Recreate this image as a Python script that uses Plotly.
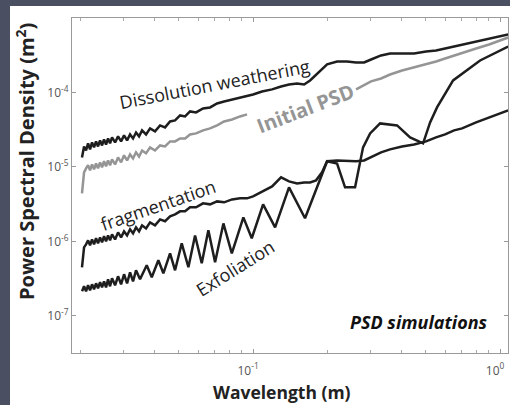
import plotly.graph_objects as go

# ---------------- data ----------------
wavelength = [0.0203, 0.02069, 0.02108, 0.02148, 0.02188, 0.02229, 0.02271, 0.02314, 0.02357, 0.02402,
              0.02447, 0.02493, 0.02540, 0.02588, 0.02637, 0.02686, 0.02763, 0.02841, 0.02922, 0.03004,
              0.03090, 0.03177, 0.03267, 0.03359, 0.03455, 0.03553, 0.03688, 0.03828, 0.04010, 0.04202,
              0.04402, 0.04613, 0.04833, 0.05064, 0.05306, 0.05557, 0.05877, 0.06274, 0.06697, 0.07150,
              0.07632, 0.08222, 0.08858, 0.09456, 0.1000, 0.1087, 0.1194, 0.1298, 0.1398, 0.1507,
              0.1609, 0.1701, 0.1799, 0.1902, 0.1994, 0.2188, 0.2402, 0.2612, 0.2815, 0.3004,
              0.3297, 0.3586, 0.4010, 0.4486, 0.5015, 0.5506, 0.5989, 0.6513, 0.7018, 0.7996,
              0.9026, 1.0000, 1.0775]

psd_dissolution = [1.34e-5, 1.88e-5, 1.66e-5, 2.07e-5, 1.72e-5, 2.13e-5, 1.83e-5, 2.20e-5, 1.88e-5, 2.27e-5,
                   1.94e-5, 2.34e-5, 2.00e-5, 2.41e-5, 2.07e-5, 2.49e-5, 2.13e-5, 2.57e-5, 2.20e-5, 2.65e-5,
                   2.27e-5, 2.73e-5, 2.41e-5, 2.90e-5, 2.57e-5, 3.09e-5, 2.73e-5, 3.29e-5, 3.00e-5, 3.61e-5,
                   3.39e-5, 4.08e-5, 4.21e-5, 4.91e-5, 4.76e-5, 5.56e-5, 5.39e-5, 6.10e-5, 6.29e-5, 7.12e-5,
                   7.57e-5, 8.05e-5, 8.57e-5, 8.84e-5, 9.40e-5, 1.03e-4, 1.10e-4, 1.20e-4, 1.28e-4, 1.32e-4,
                   1.28e-4, 1.45e-4, 1.74e-4, 2.10e-4, 2.38e-4, 2.61e-4, 2.61e-4, 2.53e-4, 2.53e-4, 2.77e-4,
                   3.14e-4, 3.34e-4, 3.34e-4, 3.34e-4, 3.55e-4, 3.66e-4, 3.90e-4, 4.14e-4, 4.41e-4, 4.84e-4,
                   5.31e-4, 5.65e-4, 6.00e-4]

psd_initial = [4.41e-6, 8.44e-6, 9.55e-6, 1.05e-5, 8.97e-6, 1.08e-5, 9.26e-6, 1.11e-5, 9.55e-6, 1.15e-5,
               9.85e-6, 1.19e-5, 1.02e-5, 1.22e-5, 1.05e-5, 1.26e-5, 1.08e-5, 1.34e-5, 1.15e-5, 1.43e-5,
               1.22e-5, 1.47e-5, 1.30e-5, 1.57e-5, 1.38e-5, 1.66e-5, 1.52e-5, 1.83e-5, 1.66e-5, 1.94e-5,
               1.88e-5, 2.20e-5, 2.20e-5, 2.41e-5, 2.41e-5, 2.73e-5, 2.82e-5, 3.09e-5, 3.29e-5, 3.61e-5,
               4.08e-5, 4.34e-5, 4.76e-5, 5.07e-5, None, None, None, None, None, None,
               None, None, None, None, None, None, None, 1.10e-4, 1.24e-4, 1.41e-4,
               1.54e-4, 1.74e-4, 1.97e-4, 2.17e-4, 2.38e-4, 2.61e-4, 2.86e-4, 3.14e-4, 3.44e-4, 3.90e-4,
               4.41e-4, 4.99e-4, 5.47e-4]

psd_fragmentation = [4.48e-7, 8.31e-7, 9.11e-7, 1.03e-6, 8.84e-7, 1.06e-6, 9.11e-7, 1.10e-6, 9.40e-7, 1.13e-6,
                     9.69e-7, 1.17e-6, 1.00e-6, 1.20e-6, 1.03e-6, 1.24e-6, 1.06e-6, 1.32e-6, 1.13e-6, 1.36e-6,
                     1.20e-6, 1.45e-6, 1.28e-6, 1.54e-6, 1.36e-6, 1.64e-6, 1.49e-6, 1.80e-6, 1.64e-6, 1.97e-6,
                     1.86e-6, 2.16e-6, 2.30e-6, 2.53e-6, 2.53e-6, 2.86e-6, 2.86e-6, 3.24e-6, 3.14e-6, 3.44e-6,
                     3.34e-6, 3.66e-6, 3.78e-6, 3.78e-6, 4.02e-6, 4.69e-6, 5.47e-6, 7.23e-6, 6.39e-6, 6.00e-6,
                     6.19e-6, 6.19e-6, 6.59e-6, 8.44e-6, 1.19e-5, 1.22e-5, 1.19e-5, 1.19e-5, 1.22e-5, 1.34e-5,
                     1.57e-5, 1.72e-5, 1.88e-5, 2.00e-5, 2.20e-5, 2.49e-5, 2.73e-5, 3.09e-5, 3.29e-5, 3.96e-5,
                     4.62e-5, 5.23e-5, 5.73e-5]

wavelength_exfoliation = [0.02031, 0.02069, 0.02108, 0.02148, 0.02188, 0.02229, 0.02271, 0.02314, 0.02357, 0.02402,
                          0.02447, 0.02493, 0.02540, 0.02588, 0.02637, 0.02686, 0.02763, 0.02841, 0.02922, 0.03004,
                          0.03090, 0.03177, 0.03267, 0.03359, 0.03487, 0.03711, 0.03889, 0.04136, 0.04334, 0.04613,
                          0.04833, 0.05143, 0.05472, 0.05824, 0.06198, 0.06592, 0.07018, 0.07584, 0.08203, 0.09135,
                          0.09879, 0.1098, 0.1228, 0.1398, 0.1623, 0.1799, 0.1994, 0.2188, 0.2357, 0.2588,
                          0.2788, 0.2977, 0.3267, 0.3828, 0.4321, 0.4879, 0.5207, 0.5556, 0.6453, 0.8297,
                          1.0775]
psd_exfoliation = [2.13e-7, 2.49e-7, 2.13e-7, 2.57e-7, 2.20e-7, 2.65e-7, 2.27e-7, 2.73e-7, 2.34e-7, 2.82e-7,
                   2.41e-7, 2.90e-7, 2.41e-7, 3.09e-7, 2.49e-7, 3.19e-7, 2.57e-7, 3.39e-7, 2.65e-7, 3.61e-7,
                   2.73e-7, 3.84e-7, 2.90e-7, 4.08e-7, 3.09e-7, 4.76e-7, 3.29e-7, 5.56e-7, 3.72e-7, 6.90e-7,
                   4.08e-7, 9.40e-7, 4.48e-7, 1.20e-6, 5.07e-7, 1.41e-6, 5.23e-7, 1.74e-6, 6.90e-7, 2.10e-6,
                   1.10e-6, 3.14e-6, 1.54e-6, 5.31e-6, 2.04e-6, 4.84e-6, 1.19e-5, 1.11e-5, 5.31e-6, 5.31e-6,
                   1.83e-5, 2.82e-5, 3.84e-5, 3.61e-5, 2.49e-5, 2.07e-5, 3.96e-5, 6.29e-5, 1.45e-4, 2.69e-4,
                   4.14e-4]

x_tick_vals = [0.1, 1]
x_tick_text = ["10<sup>-1</sup>", "10<sup>0</sup>"]
x_minor_vals = [0.02, 0.03, 0.04, 0.05, 0.06, 0.07, 0.08, 0.09, 0.2, 0.3, 0.4, 0.5, 0.6, 0.7, 0.8, 0.9]
y_tick_vals = [1e-7, 1e-6, 1e-5, 1e-4]
y_tick_text = ["10<sup>-7</sup>", "10<sup>-6</sup>", "10<sup>-5</sup>", "10<sup>-4</sup>"]

# ---------------- figure ----------------
FONT = "Open Sans"
BLACK = "#1e1e1e"
GRAY = "#959595"

fig = go.Figure()
fig.add_trace(go.Scatter(x=wavelength, y=psd_initial, mode="lines",
                         line=dict(color=GRAY, width=2.5), connectgaps=False, hoverinfo="skip"))
fig.add_trace(go.Scatter(x=wavelength, y=psd_dissolution, mode="lines",
                         line=dict(color=BLACK, width=2.5), hoverinfo="skip"))
fig.add_trace(go.Scatter(x=wavelength, y=psd_fragmentation, mode="lines",
                         line=dict(color=BLACK, width=2.5), hoverinfo="skip"))
fig.add_trace(go.Scatter(x=wavelength_exfoliation, y=psd_exfoliation, mode="lines",
                         line=dict(color=BLACK, width=2.5), hoverinfo="skip"))

axis_common = dict(showline=True, linecolor="#9a9a9a", linewidth=1.2, mirror="ticks",
                   ticks="inside", ticklen=4, tickcolor="#9a9a9a", showgrid=False, zeroline=False,
                   tickfont=dict(family=FONT, size=12, color="#555555"))

fig.update_xaxes(type="log", range=[-1.733, 0.032], tickmode="array",
                 tickvals=x_tick_vals, ticktext=x_tick_text, ticklabelshift=-5, ticklabelstandoff=6,
                 minor=dict(ticks="inside", ticklen=3, tickcolor="#aaaaaa", tickmode="array",
                            tickvals=x_minor_vals, showgrid=False),
                 **axis_common)
fig.update_yaxes(type="log", range=[-7.5, -3.0], tickmode="array",
                 tickvals=y_tick_vals, ticktext=y_tick_text, **axis_common)

def px(xp):
    return (xp - 72) / 436

def py(yp):
    return (353 - yp) / 335

annots = [
    dict(text="Dissolution weathering", x=px(214), y=py(84), textangle=-11,
         font=dict(family=FONT, size=18, color="#222222")),
    dict(text="<b>Initial PSD</b>", x=px(305), y=py(108), textangle=-21,
         font=dict(family=FONT, size=20, color=GRAY)),
    dict(text="fragmentation", x=px(158), y=py(205), textangle=-19,
         font=dict(family=FONT, size=18, color="#222222")),
    dict(text="Exfoliation", x=px(235), y=py(268), textangle=-32,
         font=dict(family=FONT, size=18, color="#222222")),
    dict(text="<b><i>PSD simulations</i></b>", x=px(419), y=py(322), textangle=0,
         font=dict(family=FONT, size=18, color="#111111")),
    dict(text="<b>Wavelength (m)</b>", x=px(282), y=py(392), textangle=0,
         font=dict(family=FONT, size=17.5, color="#222222")),
    dict(text="<b>Power Spectral Density (m<sup>2</sup>)</b>", x=px(25), y=py(162), textangle=-90,
         font=dict(family=FONT, size=20, color="#222222")),
]
for a in annots:
    a.update(xref="paper", yref="paper", showarrow=False, xanchor="center", yanchor="middle")
fig.update_layout(annotations=annots)

# white slide panel over dark background
fig.add_shape(type="rect", xref="paper", yref="paper", x0=px(10), x1=px(520), y0=py(420), y1=py(6),
              fillcolor="white", line=dict(width=0), layer="below")

fig.update_layout(width=510, height=405, margin=dict(l=72, r=2, t=18, b=52),
                  paper_bgcolor="#4b4f62", plot_bgcolor="white", showlegend=False)

fig.write_html("out.html", config={"displayModeBar": False},
               post_script="document.body.style.margin='0px';")
